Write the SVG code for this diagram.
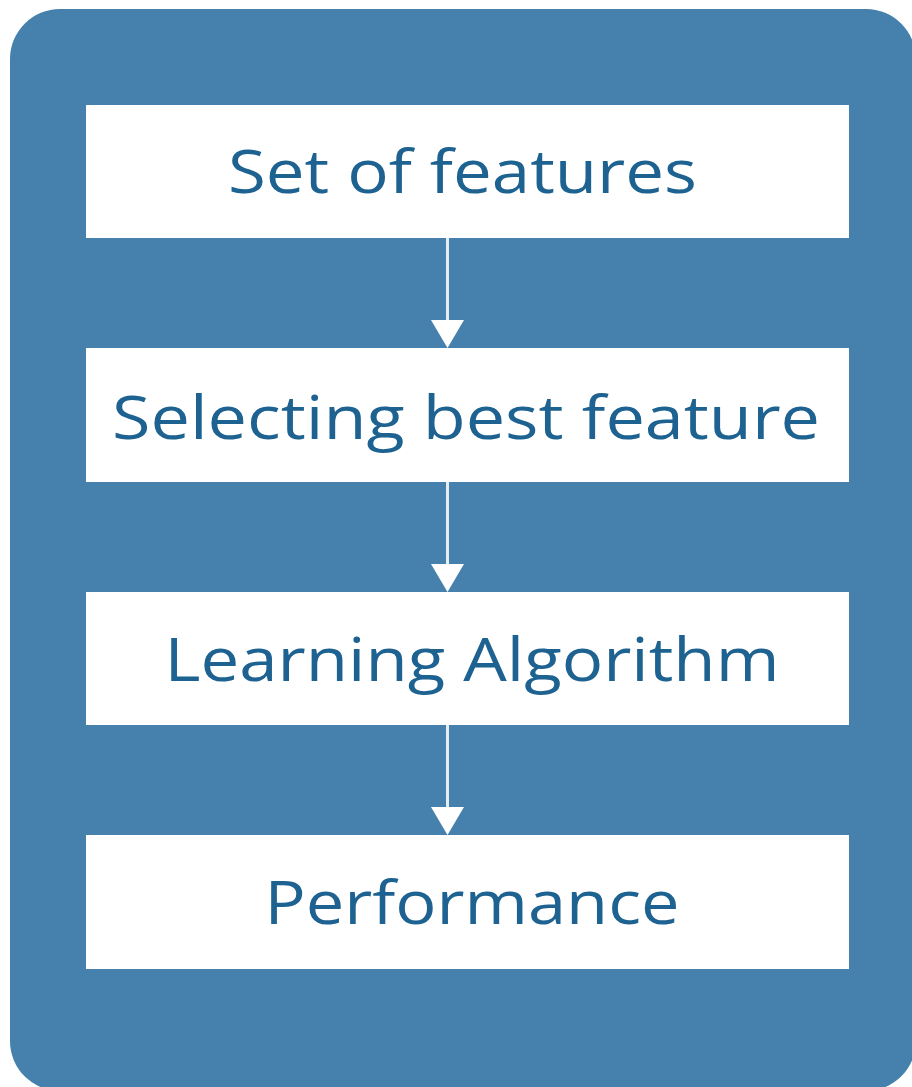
<svg xmlns="http://www.w3.org/2000/svg" width="912" height="1087" viewBox="0 0 912 1087">
<defs>
<style>
.bg{fill:#4581ac}
.box{fill:#ffffff}
.lbl{font-family:"Open Sans","Liberation Sans",sans-serif;font-size:60px;font-weight:500;fill:#1d6290;text-anchor:middle}
.conn{stroke:#e6eef5;stroke-width:3;fill:none}
.head{fill:#ffffff}
</style>
</defs>
<rect class="bg" x="10" y="9" width="906" height="1082" rx="50" ry="50"/>
<g id="connectors">
<line class="conn" x1="447.5" y1="238" x2="447.5" y2="322"/>
<polygon class="head" points="431,320 464,320 447.5,348"/>
<line class="conn" x1="447.5" y1="482" x2="447.5" y2="566"/>
<polygon class="head" points="431,564 464,564 447.5,592"/>
<line class="conn" x1="447.5" y1="725" x2="447.5" y2="809"/>
<polygon class="head" points="431,807 464,807 447.5,835"/>
</g>
<g id="node1">
<rect class="box" x="86" y="105" width="763" height="133"/>
<text class="lbl" x="462.5" y="193" textLength="469" lengthAdjust="spacingAndGlyphs">Set of features</text>
</g>
<g id="node2">
<rect class="box" x="86" y="348" width="763" height="134"/>
<text class="lbl" x="466" y="439" textLength="708" lengthAdjust="spacingAndGlyphs">Selecting best feature</text>
</g>
<g id="node3">
<rect class="box" x="86" y="592" width="763" height="133"/>
<text class="lbl" x="472" y="681" textLength="615" lengthAdjust="spacingAndGlyphs">Learning Algorithm</text>
</g>
<g id="node4">
<rect class="box" x="86" y="835" width="763" height="134"/>
<text class="lbl" x="472" y="924" textLength="415" lengthAdjust="spacingAndGlyphs">Performance</text>
</g>
</svg>
